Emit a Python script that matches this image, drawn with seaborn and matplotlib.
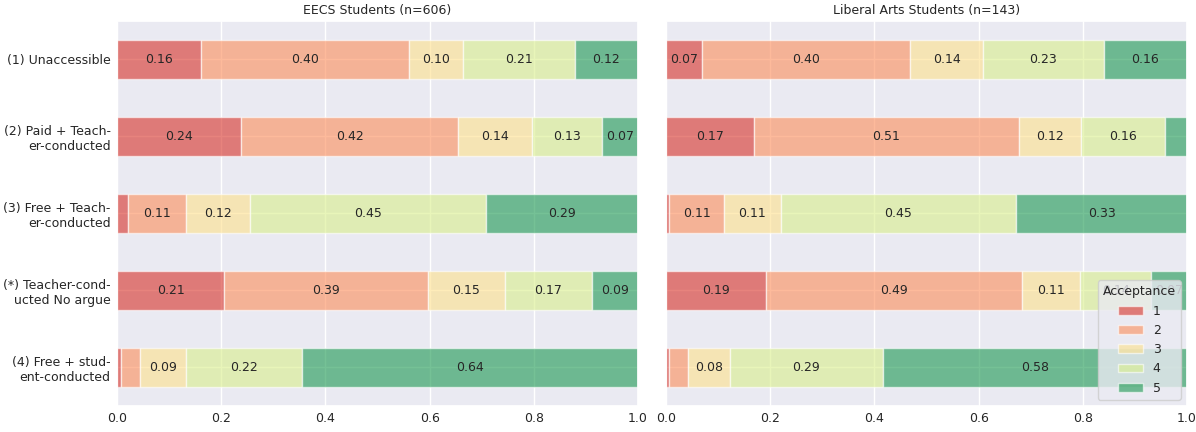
import numpy as np
import pandas as pd
import matplotlib
matplotlib.use("Agg")
import matplotlib.pyplot as plt
import seaborn as sns

categories = [
    "(1) Unaccessible",
    "(2) Paid + Teach-\ner-conducted",
    "(3) Free + Teach-\ner-conducted",
    "(*) Teacher-cond-\nucted No argue",
    "(4) Free + stud-\nent-conducted",
]
levels = ["1", "2", "3", "4", "5"]

# share of answers per acceptance level (columns 1..5), one row per category
eecs_1 = [0.162, 0.239, 0.022, 0.206, 0.007]
eecs_2 = [0.399, 0.416, 0.111, 0.391, 0.038]
eecs_3 = [0.103, 0.141, 0.123, 0.147, 0.087]
eecs_4 = [0.215, 0.134, 0.453, 0.167, 0.224]
eecs_5 = [0.121, 0.070, 0.291, 0.089, 0.644]

lib_1 = [0.070, 0.168, 0.006, 0.192, 0.006]
lib_2 = [0.399, 0.510, 0.106, 0.491, 0.036]
lib_3 = [0.140, 0.119, 0.108, 0.112, 0.081]
lib_4 = [0.231, 0.161, 0.452, 0.136, 0.293]
lib_5 = [0.160, 0.042, 0.328, 0.069, 0.584]

titles = ["EECS Students (n=606)", "Liberal Arts Students (n=143)"]
legend_title = "Acceptance"
x_ticks = [0.0, 0.2, 0.4, 0.6, 0.8, 1.0]

colors = ["#d73027", "#fc8d59", "#fee08b", "#d9ef8b", "#1a9850"]

eecs = pd.DataFrame({"1": eecs_1, "2": eecs_2, "3": eecs_3, "4": eecs_4, "5": eecs_5}, index=categories)
lib = pd.DataFrame({"1": lib_1, "2": lib_2, "3": lib_3, "4": lib_4, "5": lib_5}, index=categories)

sns.set_theme(style="darkgrid")
plt.rcParams["font.family"] = ["DejaVu Sans"]

fig, axes = plt.subplots(1, 2, figsize=(11.96, 4.32), dpi=100, sharey=True)
fig.subplots_adjust(left=0.0978, right=0.9925, bottom=0.0602, top=0.9514, wspace=0.0537)

ypos = np.arange(len(categories))
for ax, df, title in zip(axes, [eecs, lib], titles):
    left = np.zeros(len(categories))
    for lvl, col in zip(levels, colors):
        vals = df[lvl].values
        bars = ax.barh(ypos, vals, left=left, height=0.5, color=col, alpha=0.6,
                       edgecolor="white", linewidth=1, label=lvl)
        labels = [f"{v:.2f}" if v >= 0.05 else "" for v in vals]
        ax.bar_label(bars, labels=labels, label_type="center", fontsize=9, color=".15")
        left = left + vals
    ax.set_title(title, fontsize=9, color=".15", pad=5)
    ax.set_xlim(0, 1)
    ax.set_ylim(len(categories) - 0.5, -0.5)
    ax.set_xticks(x_ticks)
    ax.set_yticks(ypos)
    ax.set_yticklabels(categories)
    ax.tick_params(labelsize=9, length=0, pad=4.5)
    ax.set_xlabel("")
    ax.set_ylabel("")

axes[1].tick_params(axis="y", labelleft=False)
axes[1].legend(title=legend_title, loc="lower right", fontsize=9, title_fontsize=9)

fig.savefig("out.png", dpi=100)
